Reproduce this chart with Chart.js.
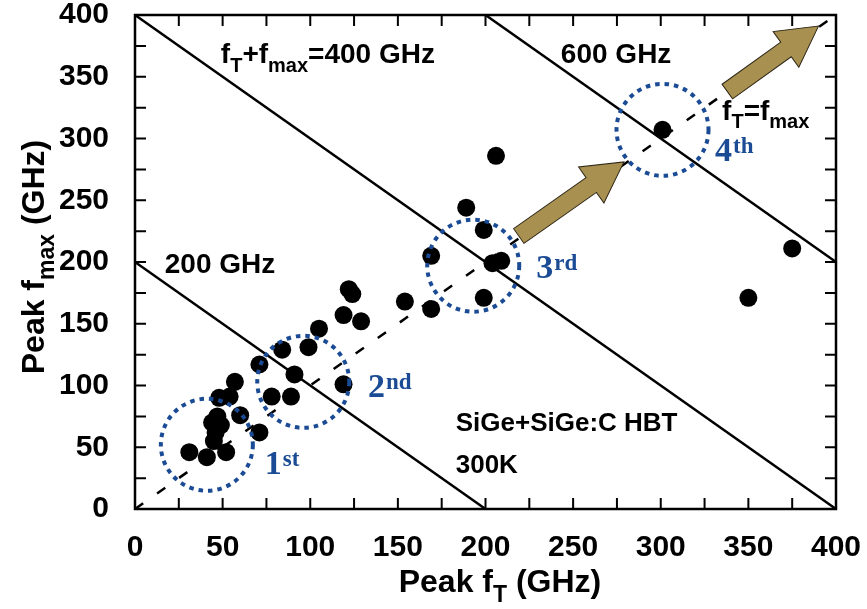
<!DOCTYPE html>
<html>
<head>
<meta charset="utf-8">
<script src="https://cdn.jsdelivr.net/npm/chart.js@4.4.0/dist/chart.umd.min.js"></script>
<style>
  html, body { margin: 0; padding: 0; background: #fff; }
</style>
</head>
<body>
<canvas id="chart" width="867" height="609"></canvas>
<script>
// peak fT / fmax of SiGe and SiGe:C HBTs, GHz
const peakFt = [31, 41, 52, 45, 46, 44, 47, 49, 48, 54, 57, 60, 71,
                71, 78, 84, 89, 91, 99, 105, 119,
                119, 122, 124, 129, 154, 169, 169, 189, 199, 199, 204, 209, 206,
                301, 350, 375];
const peakFmax = [46, 42, 46, 55, 62, 70, 75, 68, 90, 91, 103, 76, 62,
                  117, 91, 129, 91, 109, 131, 146, 101,
                  157, 178, 174, 152, 168, 162, 205, 244, 226, 171, 199, 201, 286,
                  307, 171, 211];

const axisTicks = [0, 50, 100, 150, 200, 250, 300, 350, 400];

// constant fT + fmax lines (endpoints) and the fT = fmax diagonal
const sum200 = [{ x: 0, y: 200 }, { x: 200, y: 0 }];
const sum400 = [{ x: 0, y: 400 }, { x: 400, y: 0 }];
const sum600 = [{ x: 200, y: 400 }, { x: 400, y: 200 }];
const diagonal = [{ x: 0, y: 0 }, { x: 400, y: 400 }];

// generation rings (centre in GHz) and their labels
const genCentres = [[41, 52], [96, 103], [193, 197], [301, 307]];
const genNumbers = ['1', '2', '3', '4'];
const genSuffix = ['st', 'nd', 'rd', 'th'];
const genLabelAt = [[74, 28], [133, 91], [229, 187], [331, 282]];

// trend arrows: tail -> tip, GHz
const arrows = [
  [[219, 221], [279, 281]],
  [[338, 338], [390, 391]]
];

const SANS = '"Liberation Sans", Arial, sans-serif';
const SERIF = '"Liberation Serif", "Times New Roman", serif';
const BLUE = '#1a4b94';

// text pieces: [string, isSubscript]
const notes = [
  { at: [49, 361], size: 28, parts: [['f', 0], ['T', 1], ['+f', 0], ['max', 1], ['=400 GHz', 0]] },
  { at: [243, 361], size: 28, parts: [['600 GHz', 0]] },
  { at: [17, 191], size: 28, parts: [['200 GHz', 0]] },
  { at: [335, 315], size: 28, parts: [['f', 0], ['T', 1], ['=f', 0], ['max', 1]] },
  { at: [183, 63], size: 26, parts: [['SiGe+SiGe:C HBT', 0]] },
  { at: [183, 29], size: 26, parts: [['300K', 0]] }
];

function drawRich(ctx, parts, x, y, size, align) {
  const subSize = Math.round(size * 0.72);
  const widths = parts.map(([t, sub]) => {
    ctx.font = `bold ${sub ? subSize : size}px ${SANS}`;
    return ctx.measureText(t).width;
  });
  const total = widths.reduce((a, b) => a + b, 0);
  let cx = align === 'center' ? x - total / 2 : x;
  ctx.textAlign = 'left';
  ctx.textBaseline = 'alphabetic';
  parts.forEach(([t, sub], i) => {
    ctx.font = `bold ${sub ? subSize : size}px ${SANS}`;
    ctx.fillText(t, cx, sub ? y + size * 0.3 : y);
    cx += widths[i];
  });
}

function drawArrow(ctx, x0, y0, x1, y1) {
  const ang = Math.atan2(y1 - y0, x1 - x0);
  const len = Math.hypot(x1 - x0, y1 - y0);
  const shaft = 9, head = 22, headLen = 40;
  ctx.save();
  ctx.translate(x0, y0);
  ctx.rotate(ang);
  ctx.beginPath();
  ctx.moveTo(0, -shaft);
  ctx.lineTo(len - headLen, -shaft);
  ctx.lineTo(len - headLen, -head);
  ctx.lineTo(len, 0);
  ctx.lineTo(len - headLen, head);
  ctx.lineTo(len - headLen, shaft);
  ctx.lineTo(0, shaft);
  ctx.closePath();
  ctx.fillStyle = '#a89050';
  ctx.fill();
  ctx.strokeStyle = '#2e2716';
  ctx.lineWidth = 1;
  ctx.stroke();
  ctx.restore();
}

const decorations = {
  id: 'decorations',
  afterDatasetsDraw(chart) {
    const { ctx, chartArea: a, scales: { x, y } } = chart;
    ctx.save();

    // dotted rings around each generation
    ctx.strokeStyle = BLUE;
    ctx.lineWidth = 4;
    ctx.setLineDash([4.5, 5]);
    genCentres.forEach(([cx, cy]) => {
      ctx.beginPath();
      ctx.arc(x.getPixelForValue(cx), y.getPixelForValue(cy), 46, 0, Math.PI * 2);
      ctx.stroke();
    });
    ctx.setLineDash([]);

    // generation numbers
    ctx.fillStyle = BLUE;
    ctx.textAlign = 'left';
    ctx.textBaseline = 'alphabetic';
    genLabelAt.forEach(([lx, ly], i) => {
      const px = x.getPixelForValue(lx), py = y.getPixelForValue(ly);
      ctx.font = `bold 34px ${SERIF}`;
      ctx.fillText(genNumbers[i], px, py);
      const w = ctx.measureText(genNumbers[i]).width;
      ctx.font = `bold 23px ${SERIF}`;
      ctx.fillText(genSuffix[i], px + w + 1, py - 8);
    });

    arrows.forEach(([t, h]) => {
      drawArrow(ctx, x.getPixelForValue(t[0]), y.getPixelForValue(t[1]),
                x.getPixelForValue(h[0]), y.getPixelForValue(h[1]));
    });

    ctx.fillStyle = '#000';
    notes.forEach(n => {
      drawRich(ctx, n.parts, x.getPixelForValue(n.at[0]), y.getPixelForValue(n.at[1]), n.size, 'left');
    });

    // frame with inward ticks every 25 GHz
    ctx.strokeStyle = '#000';
    ctx.lineWidth = 2.5;
    ctx.strokeRect(a.left, a.top, a.right - a.left, a.bottom - a.top);
    ctx.lineWidth = 2;
    const tl = 11;
    ctx.beginPath();
    for (let v = 25; v < 400; v += 25) {
      const px = x.getPixelForValue(v), py = y.getPixelForValue(v);
      ctx.moveTo(px, a.bottom); ctx.lineTo(px, a.bottom - tl);
      ctx.moveTo(px, a.top); ctx.lineTo(px, a.top + tl);
      ctx.moveTo(a.left, py); ctx.lineTo(a.left + tl, py);
      ctx.moveTo(a.right, py); ctx.lineTo(a.right - tl, py);
    }
    ctx.stroke();

    // axis titles
    drawRich(ctx, [['Peak f', 0], ['T', 1], [' (GHz)', 0]], 500, 592, 32, 'center');
    ctx.translate(44, 257);
    ctx.rotate(-Math.PI / 2);
    drawRich(ctx, [['Peak f', 0], ['max', 1], [' (GHz)', 0]], 0, 0, 32, 'center');
    ctx.restore();
  }
};

const lineStyle = { showLine: true, pointRadius: 0, borderColor: '#000', borderWidth: 2.5 };

// keep the plot box fixed: no extra room for overhanging end labels
function fixBox(s, size) {
  if (s.isHorizontal()) s.height = size; else s.width = size;
  s.paddingTop = 0; s.paddingBottom = 0;
  s.paddingLeft = 0; s.paddingRight = 0;
}

new Chart(document.getElementById('chart'), {
  type: 'scatter',
  data: {
    datasets: [
      {
        label: 'HBT',
        data: peakFt.map((v, i) => ({ x: v, y: peakFmax[i] })),
        pointRadius: 9,
        backgroundColor: '#000',
        borderWidth: 0
      },
      { label: 'fT=fmax', data: diagonal, ...lineStyle, borderDash: [10, 17] },
      { label: '200 GHz', data: sum200, ...lineStyle },
      { label: '400 GHz', data: sum400, ...lineStyle },
      { label: '600 GHz', data: sum600, ...lineStyle }
    ]
  },
  options: {
    responsive: false,
    devicePixelRatio: 1,
    animation: false,
    layout: { padding: { top: 15, right: 31, left: 0, bottom: 0 } },
    plugins: {
      legend: { display: false },
      tooltip: { enabled: false }
    },
    scales: {
      x: {
        type: 'linear',
        min: 0,
        max: 400,
        afterBuildTicks: s => { s.ticks = axisTicks.map(v => ({ value: v })); },
        afterFit: s => fixBox(s, 100),
        grid: { display: false },
        border: { display: false },
        ticks: {
          padding: 13,
          color: '#000',
          font: { family: SANS, weight: 'bold', size: 30 }
        }
      },
      y: {
        type: 'linear',
        min: 0,
        max: 400,
        afterBuildTicks: s => { s.ticks = axisTicks.map(v => ({ value: v })); },
        afterFit: s => fixBox(s, 135),
        grid: { display: false },
        border: { display: false },
        ticks: {
          padding: 18,
          color: '#000',
          font: { family: SANS, weight: 'bold', size: 30 }
        }
      }
    }
  },
  plugins: [decorations]
});
</script>
</body>
</html>
